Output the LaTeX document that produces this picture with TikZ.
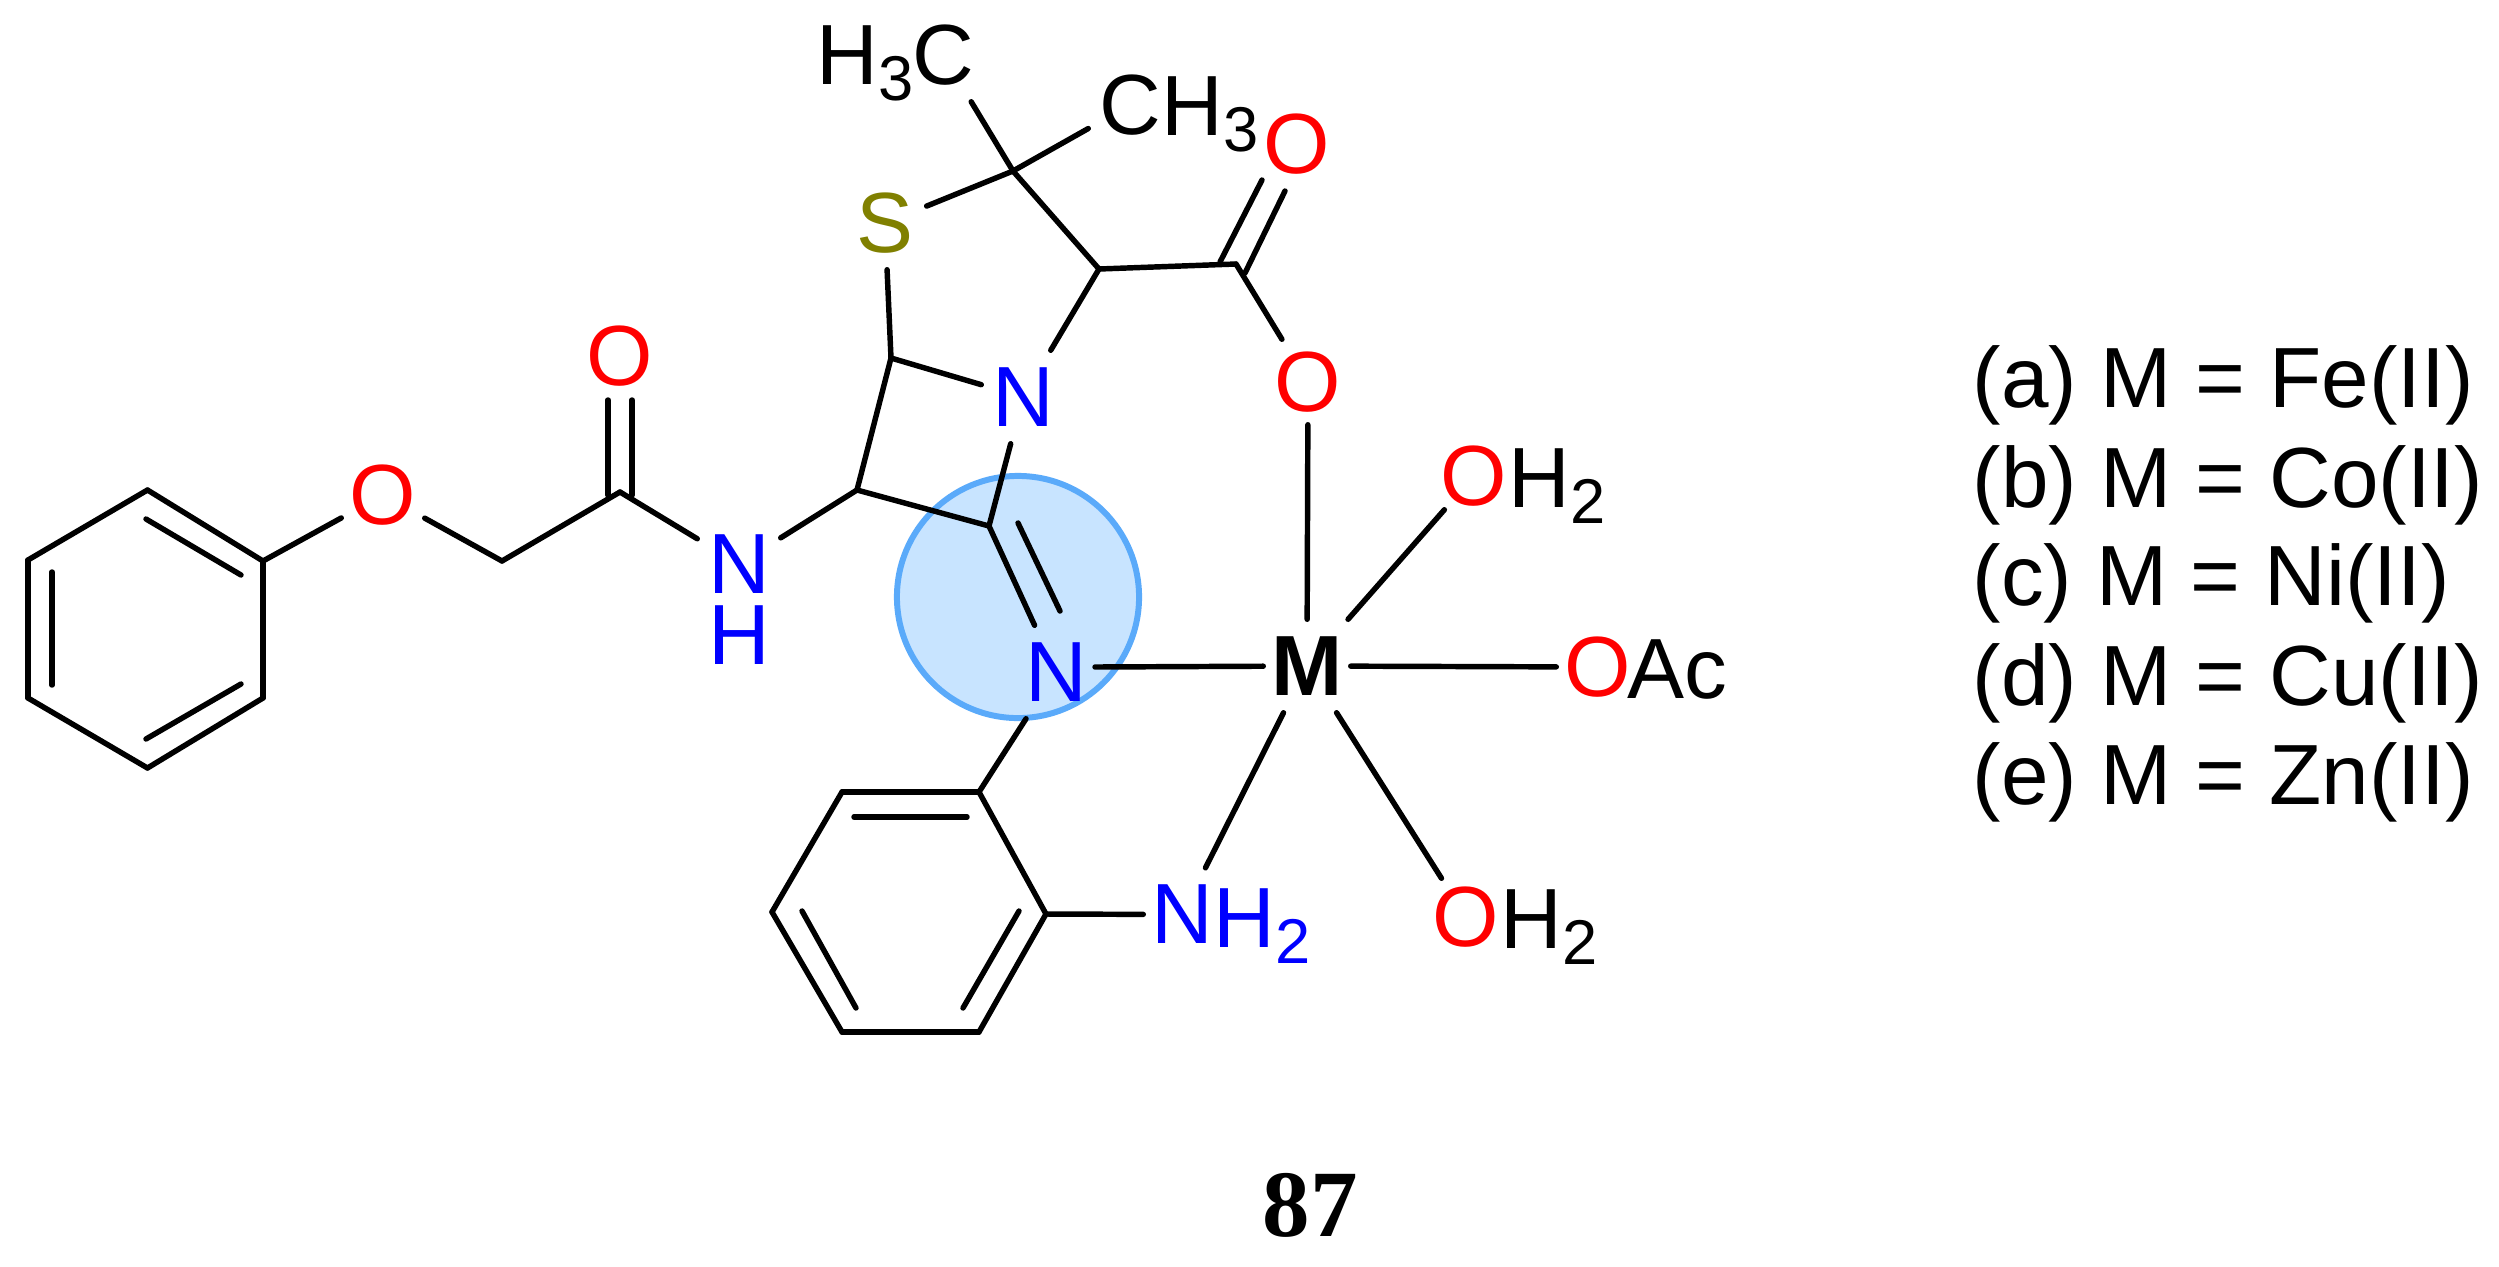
\documentclass[tikz,border=0pt]{standalone}
\usepackage{fontspec}
\setmainfont{Liberation Sans}
\newfontfamily\numfont{Liberation Serif}
\definecolor{halofill}{RGB}{200,228,255}
\definecolor{halodraw}{RGB}{90,170,250}
\definecolor{sulfur}{RGB}{128,128,0}
\newcommand{\subn}[1]{\raisebox{-.16cm}{\fontsize{18}{18}\selectfont #1}}
\tikzstyle{atom}=[rectangle,inner sep=0pt,minimum width=.82cm,minimum height=.92cm,font=\fontsize{24.3}{28}\selectfont]
\tikzstyle{oxy}=[atom,text=red]
\tikzstyle{nit}=[atom,text=blue]
\tikzstyle{tail}=[inner sep=0pt,anchor=base west,font=\fontsize{24.3}{28}\selectfont]
\tikzstyle{bond}=[black,line width=1.55pt,line cap=round,line join=round]
\tikzstyle{halo}=[circle,draw=halodraw,fill=halofill,line width=1.7pt,inner sep=0pt,minimum size=2.42cm]

\begin{document}
\begin{tikzpicture}[x=.01cm,y=-.01cm]
	\useasboundingbox (0,0) rectangle (2499,1266);
	\node (hl) at (1018,597) [halo] {};
	% ring and chain junctions
	\foreach \n/\x/\y in {pa/147.5/490,pb/263/561,pc/263/698,pd/147.5/768,pe/28/698,pf/28/560,
		pg/146/519,ph/241/575,pi/52/572,pj/52/685,pk/146/739,pl/241/684,
		ch/502/561,co/620/492,cl/608/400,cm/632/400,cn/608/495,cp/632/495,
		ca/857/490,cb/891/358,cc/989/526,cd/1013/171,ce/1099/269,cf/1236/264,
		cg/1220/262,ci/1262/180,cj/1245/273,ck/1285/191,
		cq/1018/523,cr/1060/611,nj/1095/667,
		ra/979/792,rb/842/792,rc/772/912,rd/842/1032,re/979/1032,rf/1046/914,
		rg/854/817,rh/967/817,ri/802/911,rj/856/1008,rk/1019/911,rl/963/1008}
	{
		\coordinate (\n) at (\x,\y);
	}
	% atoms
	\node (op) at (383,495) [oxy] {O};
	\node (oc) at (620,356) [oxy] {O};
	\node (na) at (739,564) [nit,minimum height=.7cm] {N};
	\node (hn) at (739,635) [atom,text=blue,minimum height=0pt] {H};
	\node (su) at (885,223) [atom,text=sulfur] {S};
	\node (nr) at (1023,397) [nit] {N};
	\node (ni) at (1056,672) [nit] {N};
	\node (ok) at (1297,144) [oxy] {O};
	\node (oe) at (1308,382) [oxy,minimum height=.84cm] {O};
	\node (mm) at (1307,666) [atom,minimum width=.86cm,font=\fontsize{24.3}{28}\selectfont\bfseries] {M};
	\node (wa) at (1474,476) [oxy,minimum width=.62cm,minimum height=.66cm] {O};
	\node (ac) at (1598,667) [oxy] {O};
	\node (wb) at (1466,917) [oxy,minimum height=.76cm] {O};
	\node (nh) at (1182,914.5) [nit,minimum width=.76cm] {N};
	\node (cx) at (943,55) [atom] {C};
	\node (cy) at (1130,105) [atom] {C};
	% rest of the labels
	\node (tx) at (816,84) [tail] {H\subn{3}};
	\node (ty) at (1161,135.5) [tail] {H\subn{3}};
	\node (tw) at (1508,507) [tail] {H\subn{2}};
	\node (tv) at (1500,948) [tail] {H\subn{2}};
	\node (tu) at (1213,947) [tail,text=blue] {H\subn{2}};
	\node (tc) at (1627,698) [tail] {Ac};
	\foreach \l/\t/\y in {la/(a) M = Fe(II)/407,lb/(b) M = Co(II)/507,lc/(c) M = Ni(II)/605,ld/(d) M = Cu(II)/705,le/(e) M = Zn(II)/804}
	{
		\node (\l) at (1972,\y) [tail] {\t};
	}
	\node (nb) at (1310,1205) [inner sep=0pt,font=\fontsize{27}{30}\selectfont\numfont\bfseries] {87};
	% bonds
	\foreach \a/\b in {pa/pb,pb/pc,pc/pd,pd/pe,pe/pf,pf/pa,pg/ph,pi/pj,pk/pl,
		pb/op,op/ch,ch/co,co/na,cl/cn,cm/cp,na/ca,ca/cb,ca/cc,cc/nr,cb/nr,cb/su,su/cd,
		cd/cx,cd/cy,cd/ce,ce/cf,ce/nr,cg/ci,cj/ck,cf/oe,oe/mm,
		cc/ni,cq/cr,nj/mm,ni/ra,mm/ac,mm/wa,mm/wb,mm/nh,
		ra/rb,rb/rc,rc/rd,rd/re,re/rf,rf/ra,rg/rh,ri/rj,rk/rl,rf/nh}
	{
		\draw[bond] (\a)--(\b);
	}
\end{tikzpicture}
\end{document}
